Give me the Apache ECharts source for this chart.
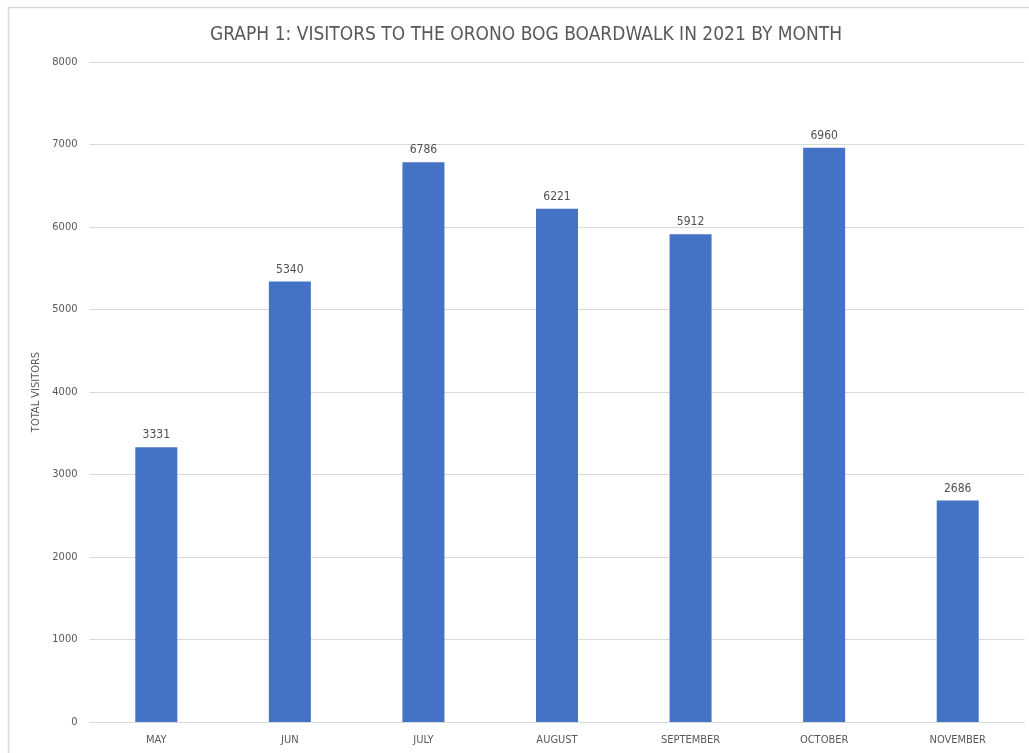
<!DOCTYPE html>
<html>
<head>
<meta charset="utf-8">
<script src="https://cdn.jsdelivr.net/npm/echarts@6/dist/echarts.min.js"></script>
<style>html,body{margin:0;padding:0;background:#fff;}#c{width:1029px;height:753px;}</style>
</head>
<body>
<div id="c"></div>
<script>
const categories = ['MAY','JUN','JULY','AUGUST','SEPTEMBER','OCTOBER','NOVEMBER'];
const visitors = [3331, 5340, 6786, 6221, 5912, 6960, 2686];
const yTicks = [0, 1000, 2000, 3000, 4000, 5000, 6000, 7000, 8000];
const titleText = 'GRAPH 1: VISITORS TO THE ORONO BOG BOARDWALK IN 2021 BY MONTH';
const yName = 'TOTAL VISITORS';

const FONT = '"Liberation Sans Narrow", "DejaVu Sans Condensed", "Open Sans", sans-serif';
const chart = echarts.init(document.getElementById('c'), null, {renderer: 'canvas'});
chart.setOption({
  backgroundColor: '#fff',
  animation: false,
  graphic: [{
    type: 'rect', left: 6, top: 5, shape: {width: 1060, height: 780},
    style: {fill: 'none', stroke: '#d9d9d9', lineWidth: 1.5}, silent: true
  }],
  title: {
    text: titleText, left: 205, top: 21,
    textStyle: {fontFamily: FONT, fontSize: 19, fontWeight: 'normal', color: '#595959'}
  },
  grid: {left: 89.5, right: 4.5, top: 62, bottom: 31, containLabel: false},
  xAxis: {
    type: 'category', data: categories,
    axisLine: {lineStyle: {color: '#d9d9d9', width: 1}},
    axisTick: {show: false},
    axisLabel: {fontFamily: FONT, fontSize: 11, color: '#595959', margin: 13}
  },
  yAxis: {
    type: 'value', min: yTicks[0], max: yTicks[yTicks.length - 1], interval: 1000,
    name: yName, nameLocation: 'middle', nameGap: 47, nameRotate: 90,
    nameTextStyle: {fontFamily: FONT, fontSize: 11, color: '#595959'},
    axisLine: {show: false}, axisTick: {show: false},
    axisLabel: {fontFamily: FONT, fontSize: 11, color: '#595959', margin: 12,
      formatter: v => String(v)},
    splitLine: {lineStyle: {color: '#d9d9d9', width: 1}}
  },
  series: [{
    type: 'bar', data: visitors, barWidth: 42,
    itemStyle: {color: '#4472C4'},
    label: {show: true, position: 'top', distance: 6, fontFamily: FONT, fontSize: 12, color: '#505050'}
  }]
});
</script>
</body>
</html>
